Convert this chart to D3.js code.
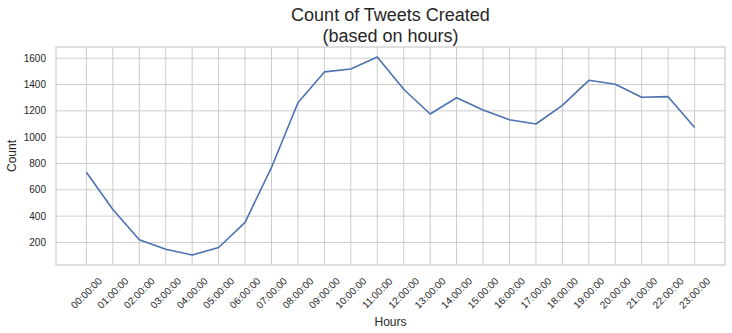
<!DOCTYPE html>
<html>
<head>
<meta charset="utf-8">
<script src="https://cdn.jsdelivr.net/npm/d3@7"></script>
<style>
  body { margin: 0; background: #fff; }
  text { font-family: "Liberation Sans", Arial, sans-serif; fill: #262626; }
</style>
</head>
<body>
<div id="chart"></div>
<script>
// Data
const hours = ["00:00:00", "01:00:00", "02:00:00", "03:00:00", "04:00:00", "05:00:00",
  "06:00:00", "07:00:00", "08:00:00", "09:00:00", "10:00:00", "11:00:00",
  "12:00:00", "13:00:00", "14:00:00", "15:00:00", "16:00:00", "17:00:00",
  "18:00:00", "19:00:00", "20:00:00", "21:00:00", "22:00:00", "23:00:00"];
const counts = [734, 450, 221, 149, 104, 162, 353, 770, 1262, 1496, 1518, 1610,
  1364, 1176, 1300, 1206, 1132, 1100, 1242, 1432, 1402, 1303, 1308, 1074];
const yTicks = [200, 400, 600, 800, 1000, 1200, 1400, 1600];

const W = 732, H = 333;
const margin = { top: 47, right: 7, bottom: 68, left: 56 };
const width = W - margin.left - margin.right;
const height = H - margin.top - margin.bottom;

const svg = d3.select("#chart").append("svg")
  .attr("width", W)
  .attr("height", H);

const g = svg.append("g")
  .attr("transform", `translate(${margin.left},${margin.top})`);

// matplotlib style 5% margins around the data
const n = hours.length;
const x = d3.scaleLinear()
  .domain([-0.05 * (n - 1), (n - 1) * 1.05])
  .range([0, width]);

const yMin = d3.min(counts), yMax = d3.max(counts);
const pad = (yMax - yMin) * 0.05;
const y = d3.scaleLinear()
  .domain([yMin - pad, yMax + pad])
  .range([height, 0]);

// grid
g.append("g")
  .selectAll("line")
  .data(d3.range(n))
  .join("line")
  .attr("x1", d => x(d)).attr("x2", d => x(d))
  .attr("y1", 0).attr("y2", height)
  .attr("stroke", "#cccccc").attr("stroke-width", 1);

g.append("g")
  .selectAll("line")
  .data(yTicks)
  .join("line")
  .attr("x1", 0).attr("x2", width)
  .attr("y1", d => y(d)).attr("y2", d => y(d))
  .attr("stroke", "#cccccc").attr("stroke-width", 1);

// frame
g.append("rect")
  .attr("width", width).attr("height", height)
  .attr("fill", "none")
  .attr("stroke", "#cccccc").attr("stroke-width", 1.25);

// y tick labels
g.append("g")
  .selectAll("text")
  .data(yTicks)
  .join("text")
  .attr("x", -10)
  .attr("y", d => y(d))
  .attr("dy", "0.35em")
  .attr("text-anchor", "end")
  .attr("font-size", 10)
  .text(d => d);

// x tick labels, rotated 45 degrees, centred under the tick
g.append("g")
  .selectAll("text")
  .data(hours)
  .join("text")
  .attr("transform", (d, i) => `translate(${x(i)},${height + 28}) rotate(-45)`)
  .attr("text-anchor", "middle")
  .attr("dy", "0.35em")
  .attr("font-size", 10)
  .text(d => d);

// line
g.append("path")
  .datum(counts)
  .attr("fill", "none")
  .attr("stroke", "#4c72b0")
  .attr("stroke-width", 1.6)
  .attr("stroke-linejoin", "round")
  .attr("d", d3.line().x((d, i) => x(i)).y(d => y(d)));

// titles and axis labels
svg.append("text")
  .attr("x", margin.left + width / 2).attr("y", 20.5)
  .attr("text-anchor", "middle").attr("font-size", 18)
  .text("Count of Tweets Created");
svg.append("text")
  .attr("x", margin.left + width / 2).attr("y", 41.5)
  .attr("text-anchor", "middle").attr("font-size", 18)
  .text("(based on hours)");

svg.append("text")
  .attr("x", margin.left + width / 2).attr("y", 326)
  .attr("text-anchor", "middle").attr("font-size", 12)
  .text("Hours");

svg.append("text")
  .attr("transform", `translate(16,${margin.top + height / 2}) rotate(-90)`)
  .attr("text-anchor", "middle").attr("font-size", 12)
  .text("Count");
</script>
</body>
</html>
